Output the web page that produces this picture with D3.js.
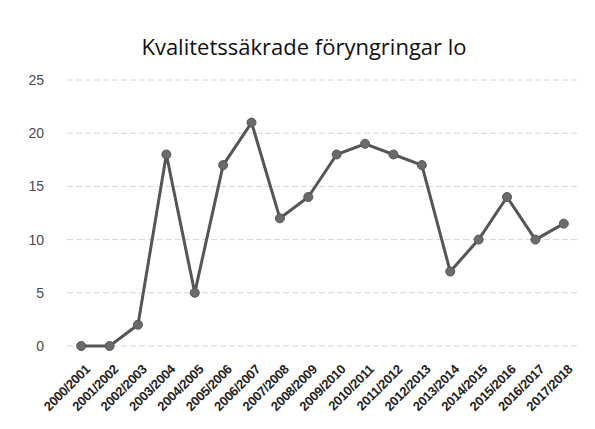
<!DOCTYPE html>
<html>
<head>
<meta charset="utf-8">
<script src="https://cdn.jsdelivr.net/npm/d3@7"></script>
<style>
  body { margin: 0; background: #fff; }
  svg { font-family: "Open Sans", "Noto Sans", sans-serif; }
  .grid line { stroke: #d4d4d4; stroke-width: 1; stroke-dasharray: 6,3; }
  .axis--y text { fill: #4a4a4a; font-size: 14px; }
  .axis--x text { fill: #222; font-size: 13px; font-weight: 600; letter-spacing: -0.3px; }
  .domain, .tick line { display: none; }
</style>
</head>
<body>
<div id="chart"></div>
<script>
var seasons = ["2000/2001", "2001/2002", "2002/2003", "2003/2004", "2004/2005", "2005/2006",
    "2006/2007", "2007/2008", "2008/2009", "2009/2010", "2010/2011", "2011/2012",
    "2012/2013", "2013/2014", "2014/2015", "2015/2016", "2016/2017", "2017/2018"];
var counts = [0, 0, 2, 18, 5, 17, 21, 12, 14, 18, 19, 18, 17, 7, 10, 14, 10, 11.5];
var yTicks = [0, 5, 10, 15, 20, 25];
var chartTitle = "Kvalitetssäkrade föryngringar lo";

var dims = {width: 595, height: 429, margin: {top: 80, right: 17, bottom: 83, left: 67}};
var innerW = dims.width - dims.margin.left - dims.margin.right;
var innerH = dims.height - dims.margin.top - dims.margin.bottom;

var data = seasons.map(function(s, i) { return {season: s, n: counts[i]}; });

var xScale = d3.scalePoint()
    .domain(seasons)
    .range([0, innerW])
    .padding(0.5);

var yScale = d3.scaleLinear()
    .domain([0, 25])
    .range([innerH, 0]);

var svg = d3.select("#chart")
    .append("svg")
    .attr("width", dims.width)
    .attr("height", dims.height);

svg.append("text")
    .attr("x", 304)
    .attr("y", 55)
    .attr("text-anchor", "middle")
    .style("font-size", "22px")
    .style("fill", "#111")
    .text(chartTitle);

var g = svg.append("g")
    .attr("transform", "translate(" + dims.margin.left + "," + dims.margin.top + ")");

// gridlines
g.append("g")
    .attr("class", "grid")
    .selectAll("line")
    .data(yTicks)
    .enter()
    .append("line")
    .attr("x1", 0)
    .attr("x2", innerW)
    .attr("y1", function(d) { return yScale(d); })
    .attr("y2", function(d) { return yScale(d); });

g.append("g")
    .attr("class", "axis axis--y")
    .attr("transform", "translate(-20,0)")
    .call(d3.axisLeft(yScale).tickValues(yTicks).tickSize(0));

var xAxis = g.append("g")
    .attr("class", "axis axis--x")
    .attr("transform", "translate(0," + innerH + ")")
    .call(d3.axisBottom(xScale).tickSize(0));

xAxis.selectAll("text")
    .attr("text-anchor", "end")
    .attr("dx", "0")
    .attr("dy", "0")
    .attr("transform", "translate(7,22) rotate(-45)");

var line = d3.line()
    .x(function(d) { return xScale(d.season); })
    .y(function(d) { return yScale(d.n); });

g.append("path")
    .datum(data)
    .attr("fill", "none")
    .attr("stroke", "#555")
    .attr("stroke-width", 3)
    .attr("stroke-linejoin", "round")
    .attr("d", line);

g.selectAll(".dot")
    .data(data)
    .enter()
    .append("circle")
    .attr("class", "dot")
    .attr("cx", function(d) { return xScale(d.season); })
    .attr("cy", function(d) { return yScale(d.n); })
    .attr("r", 4.5)
    .attr("fill", "#6b6b6b")
    .attr("stroke", "#555")
    .attr("stroke-width", 1);
</script>
</body>
</html>
